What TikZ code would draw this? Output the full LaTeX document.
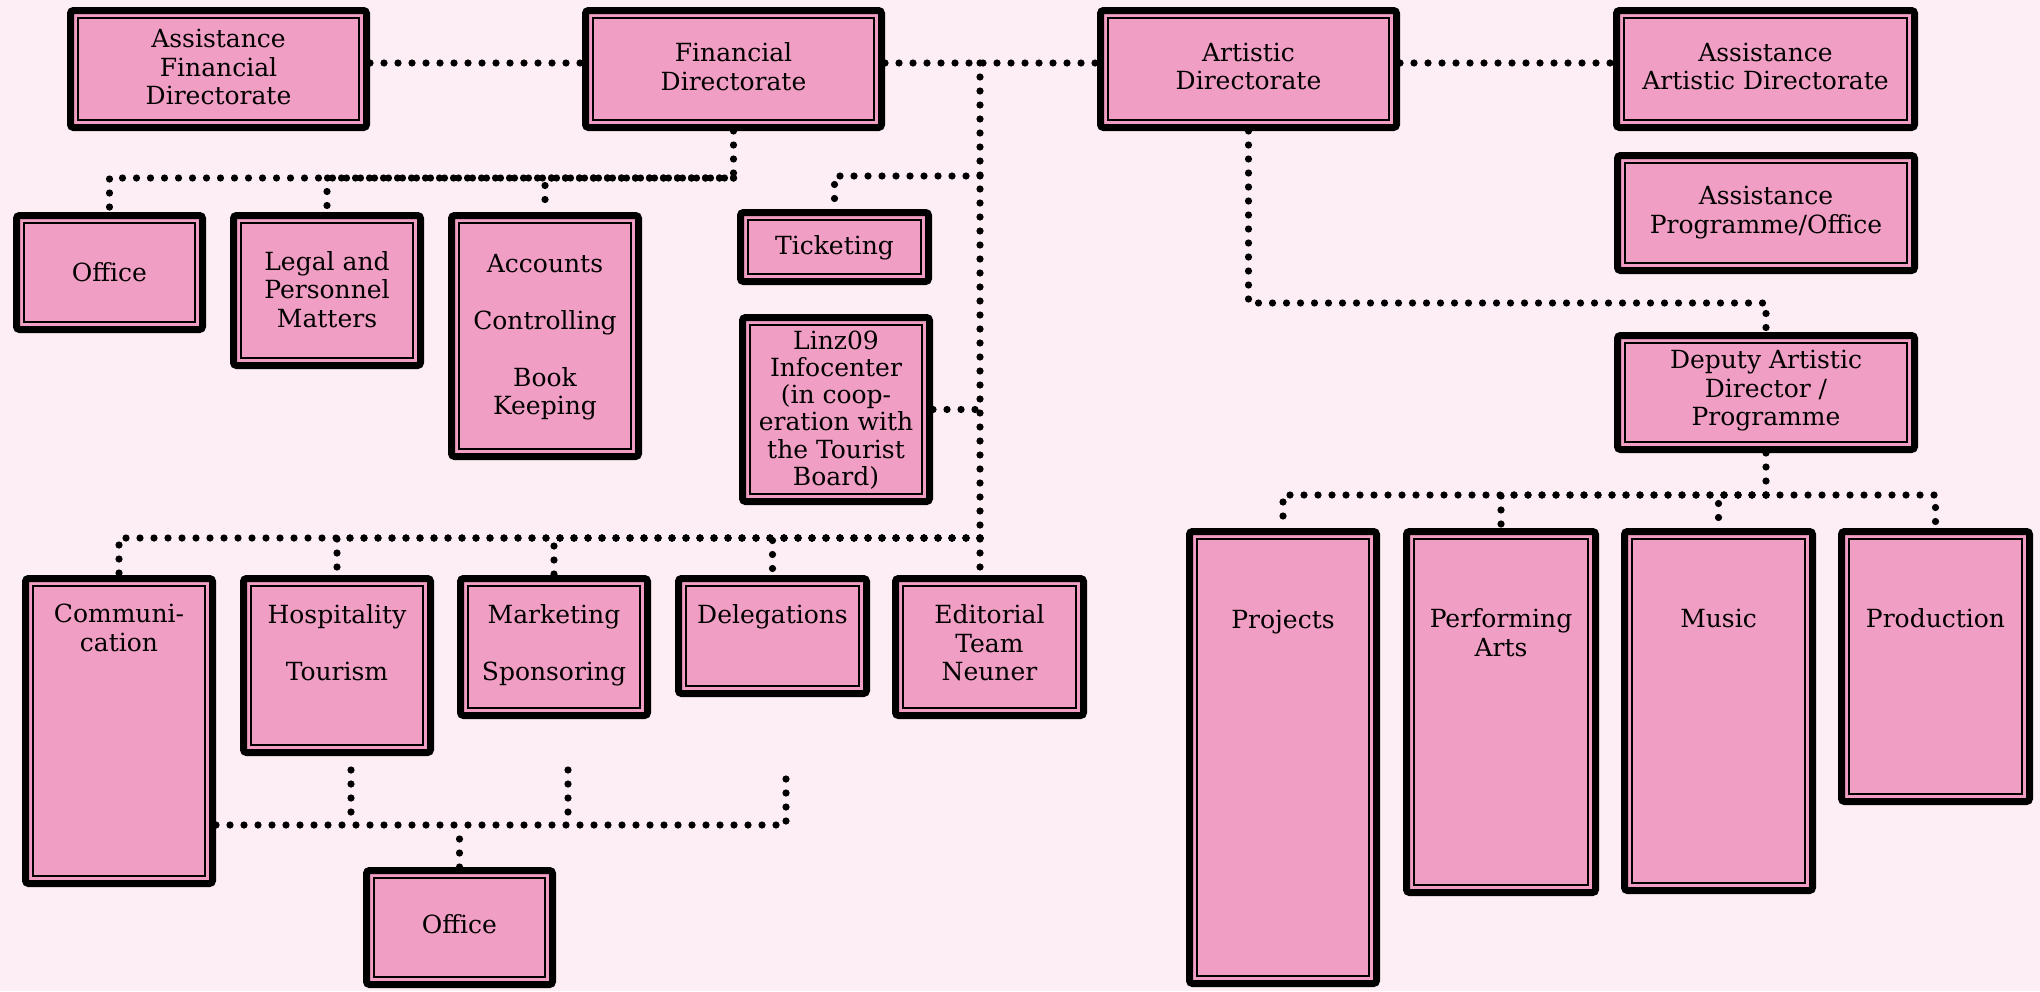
\documentclass[tikz,border=0pt]{standalone}
\usepackage{fontspec}
\setmainfont{DejaVu Serif}
\usetikzlibrary{fit,calc}
\definecolor{bgpink}{RGB}{252,238,244}
\definecolor{boxpink}{RGB}{241,158,196}
\tikzset{
  obox/.style={draw=black, line width=3.5pt, fill=boxpink, rounded corners=1.5pt, inner sep=0pt,
    path picture={\draw[line width=0.6pt, sharp corners]
      ([shift={(3.75pt,3.75pt)}]path picture bounding box.south west) rectangle
      ([shift={(-3.75pt,-3.75pt)}]path picture bounding box.north east);}},
  lbl/.style={align=center, inner sep=0pt, font=\fontsize{12.5}{14.25}\selectfont},
  conn/.style={line width=3.6pt, dash pattern=on 0pt off 7pt, line cap=round}
}
\newcommand\bx[7]{%
  \node[obox, fit={(#2+3.5,#3+3.5) (#4-3.5,#5-3.5)}] (#1) {};
  \node[lbl] (#1t) at ({(#2+#4)/2},#7) {#6};
}
\begin{document}
\begin{tikzpicture}[x=0.5pt,y=-0.5pt]
\fill[bgpink] (0,0) rectangle (2040,991);
\useasboundingbox (0,0) rectangle (2040,991);
% top row
\bx{afd}{67}{7}{370}{131}{Assistance\\Financial\\Directorate}{67}
\bx{fd}{582}{7}{885}{131}{Financial\\Directorate}{66.5}
\bx{ad}{1097}{7}{1400}{131}{Artistic\\Directorate}{66.5}
\bx{aad}{1613}{7}{1918}{131}{Assistance\\Artistic Directorate}{66.5}
\bx{apo}{1614}{152}{1918}{274}{Assistance\\Programme/Office}{212.5}
\bx{dad}{1614}{332}{1918}{453}{Deputy Artistic\\Director /\\Programme}{391}
% financial branch
\bx{office1}{13}{212}{206}{333}{Office}{272}
\bx{legal}{230}{212}{424}{369}{Legal and\\Personnel\\Matters}{289.5}
\bx{acc}{448}{212}{642}{460}{Accounts\\[14.25pt]Controlling\\[14.25pt]Book\\Keeping}{337}
\bx{tick}{737}{209}{932}{285}{Ticketing}{247.5}
\bx{linz}{739}{314}{933}{505}{Linz09\\[-0.65pt]Infocenter\\[-0.65pt](in coop-\\[-0.65pt]eration with\\[-0.65pt]the Tourist\\[-0.65pt]Board)}{410}
% lower row
\bx{comm}{22}{575}{216}{887}{Communi-\\cation}{628}
\bx{hosp}{240}{575}{434}{756}{Hospitality\\[14.25pt]Tourism}{643}
\bx{mkt}{457}{575}{651}{719}{Marketing\\[14.25pt]Sponsoring}{645.5}
\bx{deleg}{675}{575}{870}{697}{Delegations}{617}
\bx{edit}{892}{575}{1087}{719}{Editorial\\Team\\Neuner}{643}
\bx{off2}{363}{867}{556}{988}{Office}{924}
% artistic branch
\bx{proj}{1186}{528}{1380}{987}{Projects}{622}
\bx{pa}{1403}{528}{1599}{896}{Performing\\Arts}{632.5}
\bx{music}{1621}{528}{1816}{894}{Music}{618}
\bx{prod}{1838}{528}{2033}{805}{Production}{618}
% connectors
\draw[conn] ([yshift=3pt]afd.east) -- ([yshift=3pt]fd.west);
\draw[conn] ([yshift=3pt]fd.east) -- ([yshift=3pt]ad.west);
\draw[conn] ([yshift=3pt]ad.east) -- ([yshift=3pt]aad.west);
\coordinate (fb) at (fd.south |- 0,178);
\draw[conn] (fd.south) -- (fb) -| (office1.north);
\draw[conn] (fb) -| (legal.north);
\draw[conn] (fb) -| (acc.north);
\coordinate (vtop) at (980,63);
\draw[conn] (vtop) -- (vtop |- edit.north);
\draw[conn] (vtop |- 0,176) -| (tick.north);
\draw[conn] (linz.east) -- (linz.east -| vtop);
\coordinate (lb) at (vtop |- 0,538);
\draw[conn] (lb) -| (comm.north);
\draw[conn] (lb) -| (hosp.north);
\draw[conn] (lb) -| (mkt.north);
\draw[conn] (lb) -| (deleg.north);
\coordinate (s1) at (351,770);
\coordinate (s2) at (568,770);
\coordinate (s3) at (786,770);
\coordinate (oc) at (786,825);
\draw[conn] (comm.east |- oc) -- (oc) -- (s3);
\draw[conn] (s1) -- (s1 |- oc);
\draw[conn] (s2) -- (s2 |- oc);
\draw[conn] (off2.north) -- (off2.north |- oc);
\coordinate (ab) at (ad.south |- 0,303);
\draw[conn] (ad.south) -- (ab) -| (dad.north);
\coordinate (db) at (dad.south |- 0,495);
\draw[conn] (dad.south) -- (db);
\draw[conn] (db) -| (proj.north);
\draw[conn] (db) -| (pa.north);
\draw[conn] (db) -| (music.north);
\draw[conn] (db) -| (prod.north);
\end{tikzpicture}
\end{document}
